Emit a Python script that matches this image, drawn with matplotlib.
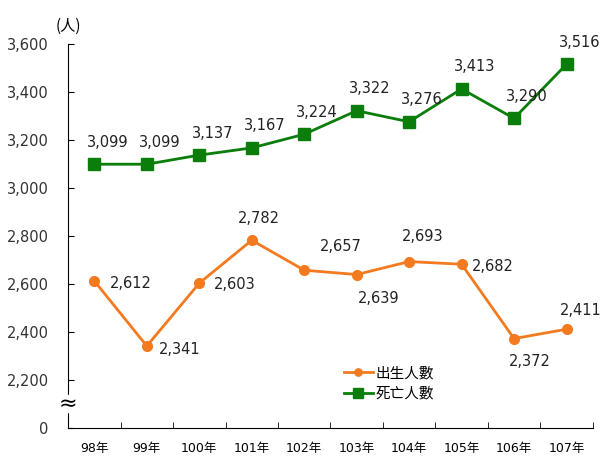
import matplotlib
matplotlib.use('Agg')
import matplotlib.pyplot as plt
from matplotlib.patches import Rectangle

plt.rcParams['font.family'] = ['DejaVu Sans', 'Noto Sans CJK TC']

# ── data ──────────────────────────────────────────────────────────────
years  = ['98年', '99年', '100年', '101年', '102年', '103年', '104年', '105年', '106年', '107年']
births = [2612, 2341, 2603, 2782, 2657, 2639, 2693, 2682, 2372, 2411]
deaths = [3099, 3099, 3137, 3167, 3224, 3322, 3276, 3413, 3290, 3516]
yticks = [2000, 2200, 2400, 2600, 2800, 3000, 3200, 3400, 3600]
ytick_labels = ['0', '2,200', '2,400', '2,600', '2,800', '3,000', '3,200', '3,400', '3,600']

# label offsets (pixels) for birth values
b_off = [(36, -2), (33, -3), (35, -1), (7, 22), (37, 24), (22, -24),
         (14, 25), (31, -2), (16, -23), (14, 19)]

ORANGE = '#F47A1F'
GREEN = '#0A7D0A'

fig = plt.figure(figsize=(6.03, 4.59), dpi=100)
ax = fig.add_axes([0.113, 0.068, 0.870, 0.836])
x = range(len(years))

ax.plot(x, births, color=ORANGE, lw=2, marker='o', ms=7, label='出生人數')
ax.plot(x, deaths, color=GREEN, lw=2, marker='s', ms=9, label='死亡人數')

for i, v in enumerate(deaths):
    ax.annotate(f'{v:,}', (i, v), xytext=(13, 22), textcoords='offset pixels',
                ha='center', va='center', fontsize=10.5, color='#222222')
for i, v in enumerate(births):
    dx, dy = b_off[i]
    ax.annotate(f'{v:,}', (i, v), xytext=(dx, dy), textcoords='offset pixels',
                ha='center', va='center', fontsize=10.5, color='#222222')

ax.set_xlim(-0.5, len(years) - 0.5)
ax.set_ylim(2000, 3600)
ax.set_yticks(yticks)
ax.set_yticklabels(ytick_labels, fontsize=10.5, color='#333333')
ax.set_xticks(list(x))
ax.set_xticklabels(years, fontsize=9, family=['DejaVu Sans', 'Noto Sans CJK TC'])
ax.set_xticks([i - 0.5 for i in range(len(years) + 1)], minor=True)
ax.tick_params(axis='x', which='major', length=0, pad=10)
ax.tick_params(axis='x', which='minor', direction='in', length=4)
ax.tick_params(axis='y', direction='in', length=4, pad=14)

for s in ['top', 'right']:
    ax.spines[s].set_visible(False)

# axis break mark
ax.add_patch(Rectangle((-0.56, 2065), 0.12, 70, transform=ax.transData,
                       color='white', clip_on=False, zorder=5))
ax.text(-0.5, 2100, '≈', ha='center', va='center', fontsize=16,
        clip_on=False, zorder=6)

ax.text(-0.5, 3640, '(人)', ha='center', va='bottom', fontsize=11,
        family=['Noto Sans CJK TC', 'DejaVu Sans'])

leg = ax.legend(loc='upper left', bbox_to_anchor=(0.5, 0.195), frameon=False,
                prop={'family': 'Noto Sans CJK TC', 'size': 10.5},
                handlelength=2.0, handletextpad=0.2, labelspacing=0.45,
                markerscale=0.75)

fig.savefig('out.png', dpi=100)
